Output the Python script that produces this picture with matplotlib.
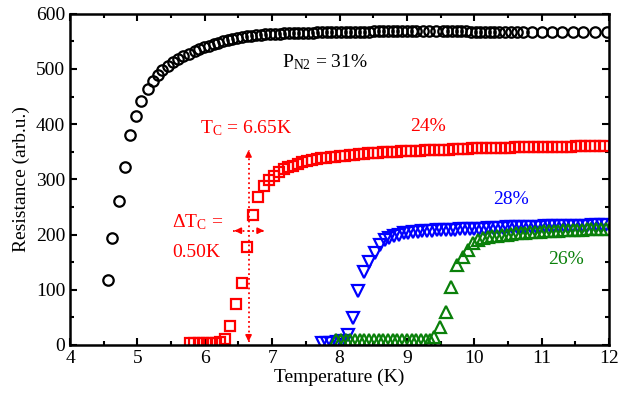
import matplotlib
matplotlib.use('Agg')
import matplotlib.pyplot as plt
from matplotlib.ticker import MultipleLocator

plt.rcParams['font.family'] = ['Liberation Serif', 'DejaVu Serif']
plt.rcParams['mathtext.fontset'] = 'custom'
plt.rcParams['mathtext.rm'] = 'Liberation Serif'
plt.rcParams['mathtext.it'] = 'Liberation Serif:italic'

# P_N2 = 31 %
t_31 = [4.56, 4.63, 4.72, 4.81, 4.89, 4.98, 5.05, 5.15, 5.23, 5.30, 5.37, 5.46, 5.53, 5.61, 5.68, 5.77, 5.85,
        5.92, 5.99, 6.06, 6.13, 6.20, 6.27, 6.34, 6.41, 6.48, 6.55, 6.62, 6.69, 6.76, 6.83, 6.90, 6.97,
        7.04, 7.11, 7.18, 7.25, 7.32, 7.39, 7.46, 7.53, 7.60, 7.67, 7.74, 7.81, 7.88, 7.95,
        8.02, 8.09, 8.16, 8.23, 8.30, 8.37, 8.44, 8.51, 8.58, 8.65, 8.72, 8.79, 8.86, 8.93, 9.00, 9.07, 9.14,
        9.24, 9.33, 9.43,
        9.53, 9.60, 9.67, 9.74, 9.81, 9.88, 9.95, 10.02, 10.09, 10.16, 10.23, 10.30, 10.37,
        10.46, 10.55, 10.64, 10.73,
        10.86, 11.01, 11.16, 11.31, 11.46, 11.61,
        11.79, 11.97]
r_31 = [118, 193, 261, 323, 380, 415, 442, 463, 479, 490, 498, 506, 512, 518, 523, 528, 533,
        536, 539, 542, 545, 547, 550, 553, 555, 556, 558, 559, 560, 561, 562, 563, 563,
        564, 564, 565, 565, 566, 566, 566, 566, 566, 567, 567, 567, 567, 567,
        567, 567, 567, 567, 567, 567, 567, 568, 568, 568, 568, 568, 568, 568, 568, 568, 568,
        568, 568, 568,
        568, 568, 568, 568, 568, 568, 567, 567, 567, 567, 567, 567, 567,
        567, 567, 567, 567,
        567, 567, 567, 567, 567, 567,
        567, 567]

# P_N2 = 24 %
t_24 = [5.78, 5.84, 5.91, 5.97, 6.04, 6.10, 6.17, 6.23, 6.30, 6.37, 6.46, 6.55, 6.63, 6.72, 6.79, 6.88, 6.96, 7.03,
        7.10, 7.17, 7.24, 7.31, 7.38, 7.45, 7.52, 7.59, 7.66, 7.73, 7.80, 7.87, 7.94,
        8.01, 8.08, 8.15, 8.22, 8.29, 8.36, 8.43, 8.50, 8.57, 8.64, 8.71, 8.78, 8.85, 8.92, 8.99,
        9.06, 9.13, 9.20, 9.27, 9.34, 9.41, 9.48, 9.55, 9.62, 9.69, 9.76, 9.83, 9.90, 9.97,
        10.04, 10.11, 10.18, 10.25, 10.32, 10.39, 10.46, 10.53, 10.60, 10.67, 10.74, 10.81, 10.88, 10.95,
        11.02, 11.09, 11.16, 11.23, 11.30, 11.37, 11.44, 11.51, 11.58, 11.65, 11.72, 11.79, 11.86, 11.93]
r_24 = [4, 4, 4, 4, 4, 4, 4, 5, 10, 34, 74, 113, 177, 235, 269, 288, 299, 307,
        313, 318, 322, 325, 328, 331, 333, 335, 337, 338, 339, 340, 341,
        342, 343, 344, 345, 346, 346, 347, 348, 348, 349, 349, 350, 350, 351, 351,
        352, 352, 352, 353, 353, 353, 354, 354, 354, 355, 355, 355, 355, 356,
        356, 356, 356, 357, 357, 357, 357, 357, 358, 358, 358, 358, 358, 358,
        359, 359, 359, 359, 359, 359, 359, 360, 360, 360, 360, 360, 360, 360]

# P_N2 = 28 %
t_28 = [7.74, 7.81, 7.88, 7.96, 8.04, 8.12, 8.20, 8.28, 8.37, 8.44, 8.52, 8.60, 8.67,
        8.74, 8.81, 8.88, 8.95, 9.02, 9.09, 9.16, 9.23, 9.30, 9.37,
        9.44, 9.51, 9.58, 9.65, 9.72, 9.79, 9.86, 9.93, 10.00, 10.07,
        10.14, 10.21, 10.28, 10.35, 10.42, 10.49, 10.56, 10.63, 10.70, 10.77,
        10.84, 10.91, 10.98, 11.05, 11.12, 11.19, 11.26, 11.33, 11.40, 11.47,
        11.54, 11.61, 11.68, 11.75, 11.82, 11.89, 11.96]
r_28 = [4, 4, 4, 5, 7, 18, 48, 98, 133, 151, 167, 182, 190,
        194, 197, 200, 202, 203, 204, 205, 206, 207, 207,
        208, 208, 209, 209, 209, 210, 210, 210, 211, 211,
        211, 212, 212, 212, 212, 213, 213, 213, 213, 214,
        214, 214, 214, 215, 215, 215, 215, 215, 216, 216,
        216, 216, 216, 217, 217, 217, 217]

# P_N2 = 26 %
t_26 = [7.95, 8.02, 8.09, 8.16, 8.23, 8.30, 8.37, 8.44, 8.51, 8.58, 8.65, 8.72, 8.79, 8.86, 8.93, 9.00,
        9.07, 9.14, 9.21, 9.28, 9.35,
        9.41, 9.49, 9.58, 9.66, 9.74, 9.84, 9.91, 9.98, 10.06,
        10.13, 10.20, 10.27, 10.34, 10.41, 10.48, 10.55, 10.62, 10.69, 10.76,
        10.83, 10.90, 10.97, 11.04, 11.11, 11.18, 11.25, 11.32, 11.39, 11.46,
        11.53, 11.60, 11.67, 11.74, 11.81, 11.88, 11.95]
r_26 = [9, 9, 9, 9, 9, 9, 9, 9, 9, 9, 9, 9, 9, 9, 9, 9,
        9, 9, 9, 9, 9,
        14, 33, 60, 105, 145, 160, 172, 184, 190,
        193, 195, 197, 198, 199, 200, 201, 202, 203, 203,
        204, 205, 205, 206, 206, 207, 207, 208, 208, 208,
        209, 209, 210, 210, 210, 211, 211]

RED = '#ff0000'
BLUE = '#0000ff'
GREEN = '#0a800a'

fig = plt.figure(figsize=(6.23, 3.94), dpi=100)
ax = fig.add_axes([0.1124, 0.1244, 0.8651, 0.8406])

kw = dict(linestyle='none', markerfacecolor='none', markeredgewidth=1.6)
ax.plot(t_31, r_31, marker='o', markersize=7.5, markeredgecolor='black', **kw)
ax.plot(t_24, r_24, marker='s', markersize=6.5, markeredgecolor=RED, **kw)
ax.plot(t_28, r_28, marker='v', markersize=8, markeredgecolor=BLUE, **kw)
ax.plot(t_26, r_26, marker='^', markersize=8, markeredgecolor=GREEN, **kw)

ax.set_xlim(4, 12)
ax.set_ylim(0, 600)
ax.xaxis.set_major_locator(MultipleLocator(1))
ax.xaxis.set_minor_locator(MultipleLocator(0.5))
ax.yaxis.set_major_locator(MultipleLocator(100))
ax.yaxis.set_minor_locator(MultipleLocator(50))
ax.tick_params(which='both', direction='in', top=True, right=True, width=1.5, labelsize=14)
ax.tick_params(which='major', length=5)
ax.tick_params(which='minor', length=3)
for s in ax.spines.values():
    s.set_linewidth(1.8)

ax.set_xlabel('Temperature (K)', fontsize=14, labelpad=1)
ax.set_ylabel('Resistance (arb.u.)', fontsize=14, labelpad=4)

# Tc and transition width markers
tc = 6.65
ax.plot([tc, tc], [6, 354], color=RED, linestyle=':', linewidth=1.3)
ax.annotate('', xy=(tc, 358), xytext=(tc, 340),
            arrowprops=dict(arrowstyle='-|>', color=RED, lw=1.2, mutation_scale=9))
ax.annotate('', xy=(tc, 1), xytext=(tc, 20),
            arrowprops=dict(arrowstyle='-|>', color=RED, lw=1.2, mutation_scale=9))
ax.plot([6.42, 6.88], [207, 207], color=RED, linestyle=':', linewidth=1.3)
ax.annotate('', xy=(6.40, 207), xytext=(6.52, 207),
            arrowprops=dict(arrowstyle='-|>', color=RED, lw=1.2, mutation_scale=9))
ax.annotate('', xy=(6.92, 207), xytext=(6.80, 207),
            arrowprops=dict(arrowstyle='-|>', color=RED, lw=1.2, mutation_scale=9))

ax.text(6.62, 393, r'T$_{\mathrm{C}}$ = 6.65K', color=RED, fontsize=14, ha='center', va='center')
ax.text(5.51, 223, r'$\Delta$T$_{\mathrm{C}}$ =', color=RED, fontsize=14, ha='left', va='center')
ax.text(5.51, 168, '0.50K', color=RED, fontsize=14, ha='left', va='center')

ax.text(7.78, 513, r'P$_{\mathrm{N2}}$ = 31%', color='black', fontsize=14, ha='center', va='center')
ax.text(9.31, 395, '24%', color=RED, fontsize=14, ha='center', va='center')
ax.text(10.54, 263, '28%', color=BLUE, fontsize=14, ha='center', va='center')
ax.text(11.36, 154, '26%', color=GREEN, fontsize=14, ha='center', va='center')

fig.savefig('out.png', dpi=100)
